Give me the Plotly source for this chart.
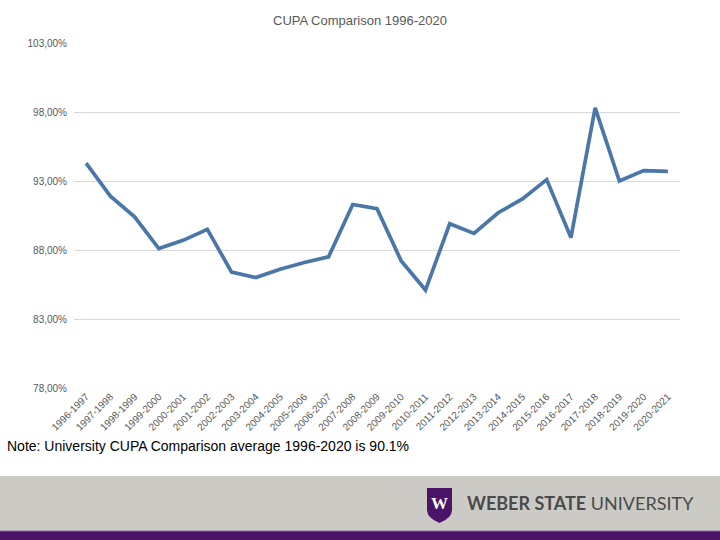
import plotly.graph_objects as go

categories = ["1996-1997", "1997-1998", "1998-1999", "1999-2000", "2000-2001",
              "2001-2002", "2002-2003", "2003-2004", "2004-2005", "2005-2006",
              "2006-2007", "2007-2008", "2008-2009", "2009-2010", "2010-2011",
              "2011-2012", "2012-2013", "2013-2014", "2014-2015", "2015-2016",
              "2016-2017", "2017-2018", "2018-2019", "2019-2020", "2020-2021"]
values = [94.3, 91.9, 90.4, 88.1, 88.7, 89.5, 86.4, 86.0, 86.6, 87.1,
          87.5, 91.3, 91.0, 87.2, 85.1, 89.9, 89.2, 90.7, 91.7, 93.1,
          88.9, 98.3, 93.0, 93.75, 93.7]
y_ticks = [78, 83, 88, 93, 98, 103]
y_tick_text = ["78,00%", "83,00%", "88,00%", "93,00%", "98,00%", "103,00%"]

W, H = 720, 540
ML, MR, MT, MB = 74, 40, 43, 152
PW, PH = W - ML - MR, H - MT - MB


def px(x):
    return (x - ML) / PW


def py(y):
    return (H - MB - y) / PH


fig = go.Figure()
fig.add_trace(go.Scatter(
    x=categories, y=values, mode="lines",
    line=dict(color="#4A76A8", width=3.7),
    hoverinfo="x+y", showlegend=False,
))

shapes = [
    dict(type="rect", xref="paper", yref="paper", x0=px(0), x1=px(W), y0=py(476), y1=py(531),
         fillcolor="#CCCAC4", line=dict(width=0), layer="below"),
    dict(type="rect", xref="paper", yref="paper", x0=px(0), x1=px(W), y0=py(531), y1=py(H),
         fillcolor="#4B1468", line=dict(width=0), layer="below"),
    dict(type="rect", xref="paper", yref="paper", x0=px(0), x1=px(W), y0=py(530.5), y1=py(531.5),
         fillcolor="#8E6AA0", line=dict(width=0), layer="below"),
]
# shield logo
sx0, sx1, sy0, sy1 = 427, 452, 488, 523
smid = (sx0 + sx1) / 2
path = (f"M {px(sx0)},{py(sy0)} L {px(sx1)},{py(sy0)} L {px(sx1)},{py(510)} "
        f"Q {px(sx1)},{py(518)} {px(smid)},{py(sy1)} Q {px(sx0)},{py(518)} {px(sx0)},{py(510)} Z")
shapes.append(dict(type="path", xref="paper", yref="paper", path=path,
                   fillcolor="#4B1468", line=dict(width=0)))

annotations = [
    dict(text="Note: University CUPA Comparison average 1996-2020 is 90.1%",
         xref="paper", yref="paper", x=px(5), y=py(446), xanchor="left", yanchor="middle",
         showarrow=False, font=dict(family="Liberation Sans, Arial", size=14, color="#000000")),
    dict(text="<b>W</b>", xref="paper", yref="paper", x=px(smid), y=py(503),
         xanchor="center", yanchor="middle", showarrow=False,
         font=dict(family="Liberation Serif", size=17, color="#FFFFFF")),
    dict(text="<b>WEBER STATE</b> UNIVERSITY", xref="paper", yref="paper", x=px(465), y=py(503),
         xanchor="left", yanchor="middle", showarrow=False,
         font=dict(family="Lato, Noto Sans", size=18, color="#4A4A4A")),
]

fig.update_layout(
    width=W, height=H,
    margin=dict(l=ML, r=MR, t=MT, b=MB),
    paper_bgcolor="white", plot_bgcolor="white",
    title=dict(text="CUPA Comparison 1996-2020", x=0.5, xanchor="center", y=1 - 20 / H,
               yanchor="middle", font=dict(family="Liberation Sans, Arial", size=13, color="#595959")),
    xaxis=dict(type="category", tickangle=-45, showgrid=False, showline=False, ticks="",
               tickfont=dict(family="Liberation Sans, Arial", size=10, color="#595959"),
               range=[-0.5, len(categories) - 0.5], fixedrange=True),
    yaxis=dict(range=[78, 103], tickvals=y_ticks, ticktext=y_tick_text,
               showgrid=True, gridcolor="#D9D9D9", gridwidth=1, zeroline=False,
               showline=False, ticks="", ticklabelstandoff=6,
               tickfont=dict(family="Liberation Sans, Arial", size=10, color="#595959")),
    shapes=shapes, annotations=annotations,
)

fig.write_html("out.html", config={"displayModeBar": False},
               post_script="document.body.style.margin='0';document.body.style.padding='0';")
